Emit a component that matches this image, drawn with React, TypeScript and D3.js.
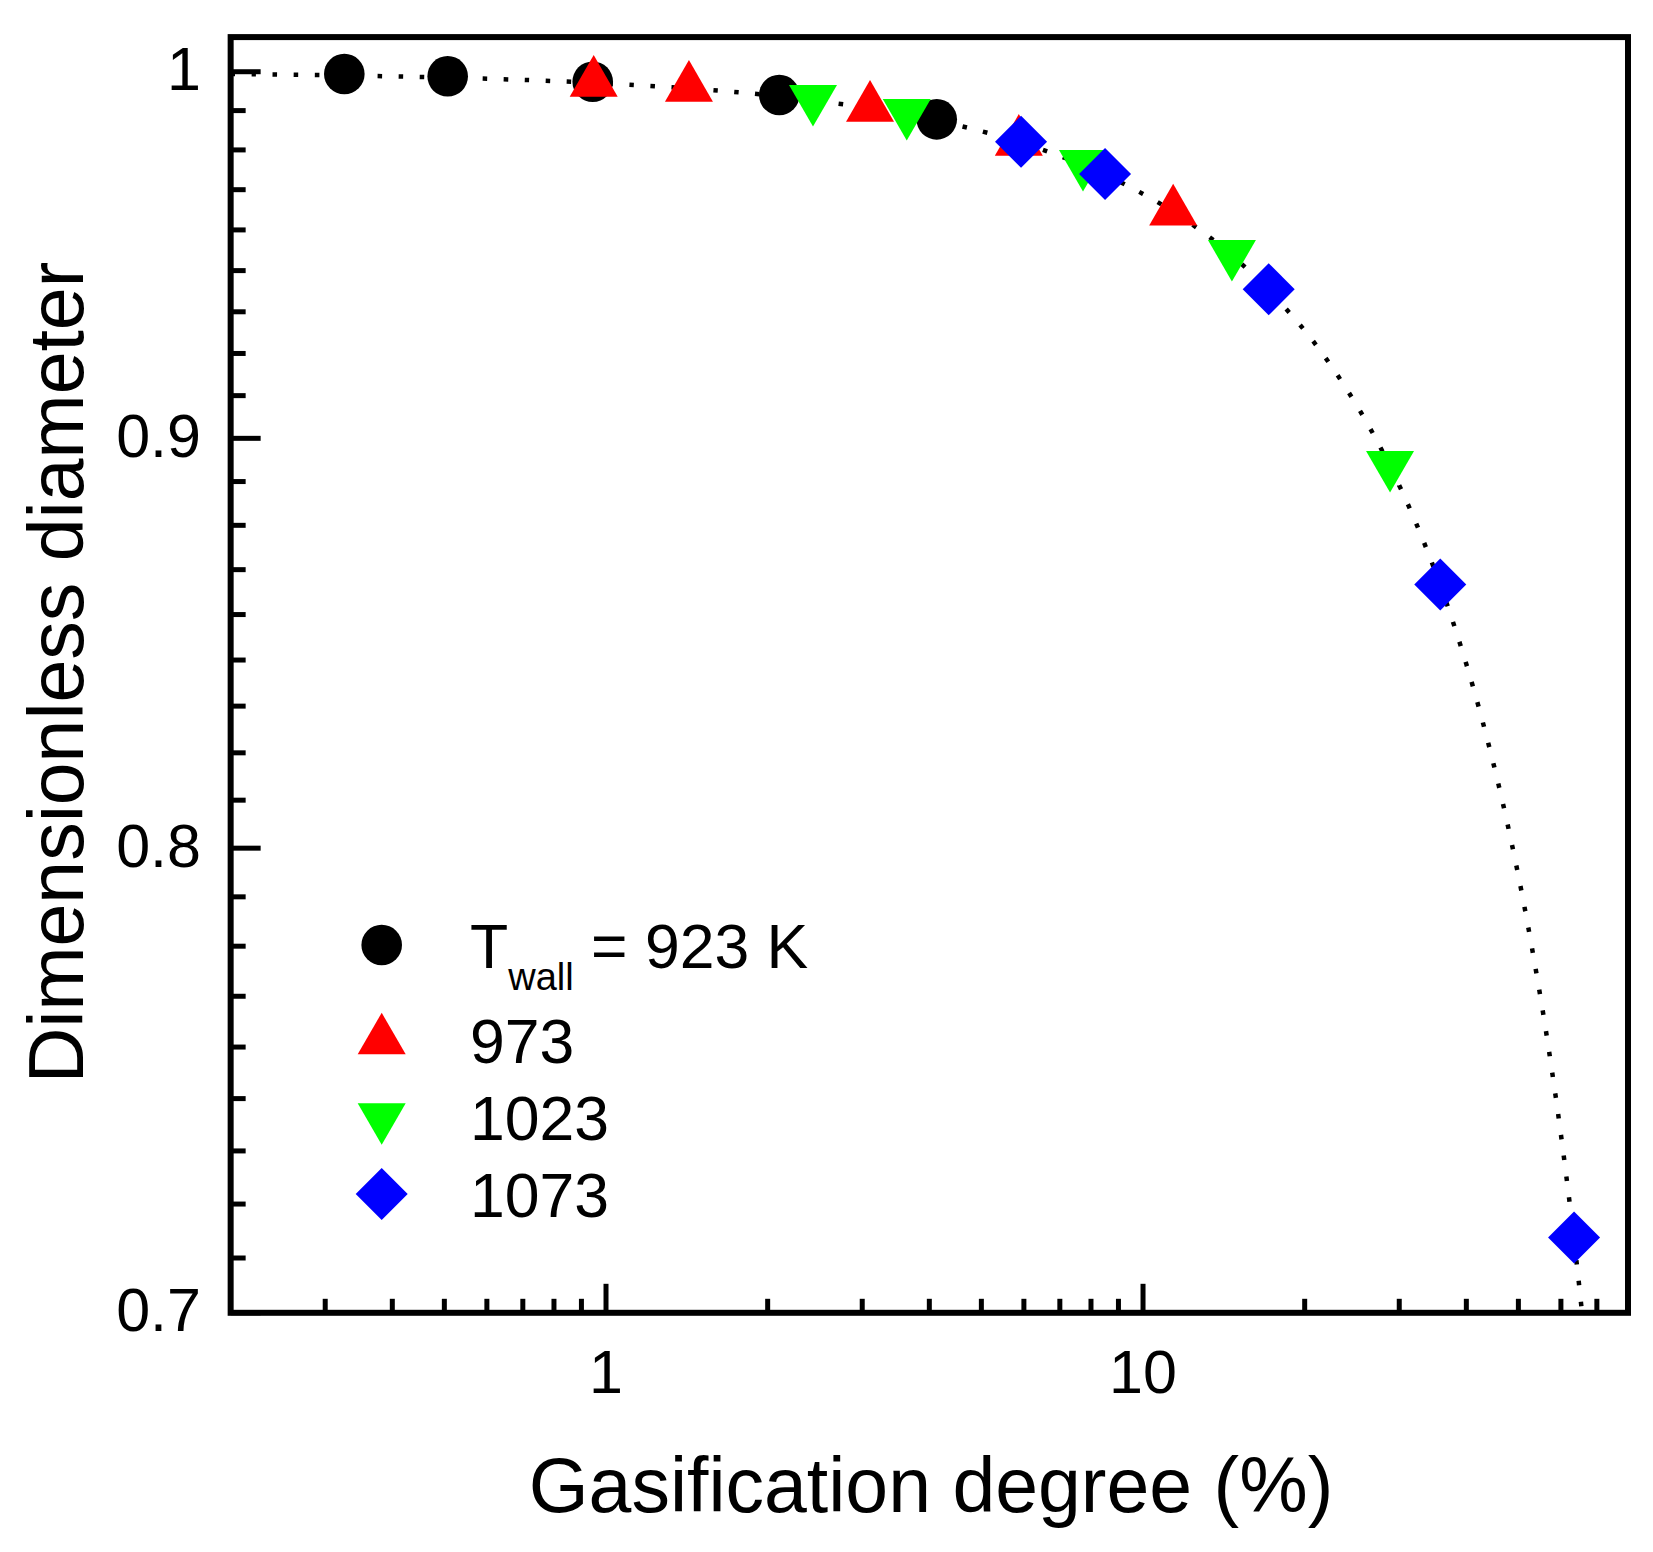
import React from "react";
import * as d3 from "d3";

// ---- data ----
const seriesNames = ["T_wall = 923 K", "973", "1023", "1073"];

const x923 = [0.3256, 0.5072, 0.9446, 2.102, 4.129];
const y923 = [0.99934, 0.99868, 0.99713, 0.99333, 0.98641];

const x973 = [0.9486, 1.427, 3.102, 5.871, 11.38];
const y973 = [0.99682, 0.99538, 0.98968, 0.98006, 0.96062];

const x1023 = [2.429, 3.631, 7.731, 14.64, 28.84];
const y1023 = [0.99224, 0.98826, 0.97388, 0.94901, 0.89317];

const x1073 = [5.927, 8.497, 17.14, 35.77, 63.48];
const y1073 = [0.98008, 0.97103, 0.93941, 0.863, 0.7153];

// dotted fitted curve, sampled along the picture
const curveX = [0.2, 0.3, 0.5, 0.8, 1, 1.5, 2, 3, 4, 5, 6, 8, 10, 12, 15, 20, 25, 30, 35, 40, 45, 50, 55, 58, 60, 62, 64, 65, 66.5];
const curveY = [0.99933, 0.999, 0.99833, 0.99733, 0.99666, 0.99497, 0.99329, 0.9899, 0.98648, 0.98305, 0.97959, 0.9726, 0.96549, 0.95832, 0.94727, 0.92832, 0.90856, 0.8879, 0.86624, 0.84343, 0.81932, 0.7937, 0.76631, 0.74889, 0.73681, 0.72432, 0.71138, 0.70473, 0.69451];

const xMajorTicks = [1, 10];
const xMinorTicks = [0.3, 0.4, 0.5, 0.6, 0.7, 0.8, 0.9, 2, 3, 4, 5, 6, 7, 8, 9, 20, 30, 40, 50, 60, 70];
const yMajorTicks = [0.7, 0.8, 0.9, 1];
const yMajorLabels = ["0.7", "0.8", "0.9", "1"];

const xTitle = "Gasification degree (%)";
const yTitle = "Dimensionless diameter";

// ---- layout ----
const W = 1653;
const H = 1552;
const FONT = "'Liberation Sans', Arial, Helvetica, sans-serif";

const x = d3.scaleLog().domain([0.2, 80]).range([230.65, 1628]);
const y = d3.scaleLog().domain([0.7, 1.01]).range([1312.8, 37.1]);

const yMinorTicks: number[] = [];
for (let i = 0; i < yMajorTicks.length; i++) {
  const a = yMajorTicks[i];
  for (let k = 1; k <= 8; k++) {
    const v = a + (k * 0.1) / 9;
    if (v < 1.01) yMinorTicks.push(v);
  }
}

const R = 20.3;
const TS = 48; // triangle side
const TH = TS * 0.866;
const DI = 26;

function marker(kind: number, cx: number, cy: number, key: string) {
  if (kind === 0) return <circle key={key} cx={cx} cy={cy} r={R} fill="#000000" />;
  if (kind === 1) {
    const p = `${cx},${cy - (2 * TH) / 3} ${cx - TS / 2},${cy + TH / 3} ${cx + TS / 2},${cy + TH / 3}`;
    return <polygon key={key} points={p} fill="#ff0000" />;
  }
  if (kind === 2) {
    const p = `${cx},${cy + (2 * TH) / 3} ${cx - TS / 2},${cy - TH / 3} ${cx + TS / 2},${cy - TH / 3}`;
    return <polygon key={key} points={p} fill="#00ff00" />;
  }
  const p = `${cx},${cy - DI} ${cx + DI},${cy} ${cx},${cy + DI} ${cx - DI},${cy}`;
  return <polygon key={key} points={p} fill="#0000ff" />;
}

const seriesX = [x923, x973, x1023, x1073];
const seriesY = [y923, y973, y1023, y1073];

export default function App() {
  const [x0, x1] = x.range();
  const [y0, y1] = y.range();
  const curvePts: [number, number][] = curveX.map((v, i) => [x(v), y(curveY[i])]);
  const linePath = d3.line().curve(d3.curveCatmullRom.alpha(0.5))(curvePts) || "";

  const legendCy = [945, 1040.5, 1117, 1194];
  const legendX = 381.7;
  const legendTextX = 470;

  return (
    <svg
      width={W}
      height={H}
      viewBox={`0 0 ${W} ${H}`}
      style={{ position: "absolute", left: 0, top: 0, background: "#ffffff" }}
      fontFamily={FONT}
    >
      <rect x={0} y={0} width={W} height={H} fill="#ffffff" />
      <defs>
        <clipPath id="plotclip">
          <rect x={x0} y={y1} width={x1 - x0} height={y0 - y1} />
        </clipPath>
      </defs>

      {/* fitted dotted curve */}
      <path
        d={linePath}
        fill="none"
        stroke="#000000"
        strokeWidth={4.5}
        strokeDasharray="4.5 16.5"
        clipPath="url(#plotclip)"
      />

      {/* data markers */}
      <g clipPath="url(#plotclip)">
        {seriesX.map((xs, s) =>
          xs.map((v, i) => marker(s, x(v), y(seriesY[s][i]), `m${s}-${i}`))
        )}
      </g>

      {/* ticks */}
      {xMajorTicks.map((t) => (
        <line key={`xM${t}`} x1={x(t)} x2={x(t)} y1={y0} y2={y0 - 29} stroke="#000" strokeWidth={5} />
      ))}
      {xMinorTicks.map((t) => (
        <line key={`xm${t}`} x1={x(t)} x2={x(t)} y1={y0} y2={y0 - 14} stroke="#000" strokeWidth={5} />
      ))}
      {yMajorTicks.map((t) => (
        <line key={`yM${t}`} x1={x0} x2={x0 + 30} y1={y(t)} y2={y(t)} stroke="#000" strokeWidth={5} />
      ))}
      {yMinorTicks.map((t, i) => (
        <line key={`ym${i}`} x1={x0} x2={x0 + 15} y1={y(t)} y2={y(t)} stroke="#000" strokeWidth={5} />
      ))}

      {/* frame */}
      <rect x={x0} y={y1} width={x1 - x0} height={y0 - y1} fill="none" stroke="#000" strokeWidth={6} />

      {/* tick labels */}
      {xMajorTicks.map((t) => (
        <text key={`xl${t}`} x={x(t)} y={1392.7} fontSize={61} textAnchor="middle" fill="#000">
          {String(t)}
        </text>
      ))}
      {yMajorTicks.map((t, i) => (
        <text key={`yl${t}`} x={201} y={y(t) + 18.5} fontSize={61} textAnchor="end" fill="#000">
          {yMajorLabels[i]}
        </text>
      ))}

      {/* axis titles */}
      <text x={931} y={1511.7} fontSize={77} textAnchor="middle" fill="#000">
        {xTitle}
      </text>
      <text
        transform={`translate(83,672.5) rotate(-90)`}
        fontSize={77}
        textAnchor="middle"
        fill="#000"
      >
        {yTitle}
      </text>

      {/* legend */}
      {seriesNames.map((name, i) => (
        <g key={`lg${i}`}>
          {marker(i, legendX, legendCy[i], `lm${i}`)}
          {i === 0 ? (
            <text x={legendTextX} y={legendCy[i] + 22.5} fontSize={62.5} fill="#000">
              <tspan>T</tspan>
              <tspan fontSize={38} dy={22}>wall</tspan>
              <tspan dy={-22}>{" = 923 K"}</tspan>
            </text>
          ) : (
            <text x={legendTextX} y={legendCy[i] + 22.5} fontSize={62.5} fill="#000">
              {name}
            </text>
          )}
        </g>
      ))}
    </svg>
  );
}
